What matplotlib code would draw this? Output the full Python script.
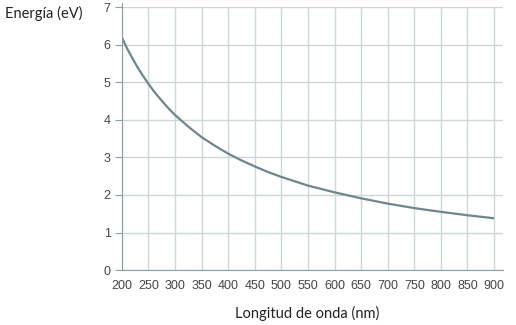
import numpy as np
import matplotlib
matplotlib.use("Agg")
import matplotlib.pyplot as plt

# values
wavelength_nm = [200, 210, 220, 230, 240, 250, 262, 275, 287, 300, 325, 350, 375, 400, 425, 450,
                 475, 500, 550, 600, 650, 700, 750, 800, 850, 900]
energy_ev = [6.20, 5.90, 5.64, 5.39, 5.17, 4.96, 4.73, 4.51, 4.32, 4.13, 3.82, 3.54, 3.31, 3.10,
             2.92, 2.76, 2.61, 2.48, 2.25, 2.07, 1.91, 1.77, 1.65, 1.55, 1.46, 1.38]
x_ticks = list(range(200, 901, 50))
y_ticks = list(range(0, 8))

GRID = "#cdd7db"
SPINE = "#8a9ea5"
LINE = "#6e868d"

fig = plt.figure(figsize=(5.16, 3.25), dpi=100)
ax = fig.add_axes([0.236, 0.169, 0.739, 0.809])

ax.plot(wavelength_nm, energy_ev, color=LINE, lw=1.6, solid_capstyle="butt", solid_joinstyle="round")

ax.set_xlim(200, 917)
ax.set_ylim(0, 7)
ax.set_xticks(x_ticks)
ax.set_yticks(y_ticks)
ax.grid(True, color=GRID, lw=1.0)
ax.set_axisbelow(True)

for side in ["top", "right"]:
    ax.spines[side].set_visible(False)
ax.spines["left"].set_color(SPINE)
ax.spines["bottom"].set_color(SPINE)
ax.spines["left"].set_bounds(0, 7.1)
ax.tick_params(axis="y", length=5, color=SPINE, labelsize=9, labelcolor="#444444", pad=3)
ax.tick_params(axis="x", length=0, labelsize=9, labelcolor="#444444", pad=7)
for lbl in ax.get_xticklabels() + ax.get_yticklabels():
    lbl.set_family("Liberation Sans")

fig.text(0.01, 0.96, "Energía (eV)", fontsize=10.5, family="Lato", color="#222222", va="center")
fig.text(0.595, 0.037, "Longitud de onda (nm)", fontsize=10.5, family="Lato", color="#222222", ha="center", va="center")

fig.savefig("out.png", dpi=100)
